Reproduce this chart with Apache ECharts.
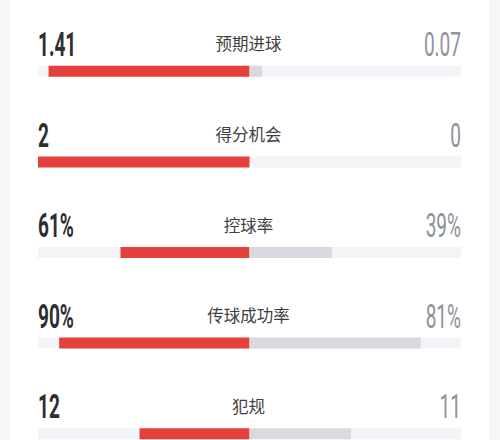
<!DOCTYPE html>
<html>
<head>
<meta charset="utf-8">
<style type="text/css">
  html, body { margin: 0; padding: 0; background: #f5f6f8; }
  #chart { width: 500px; height: 440px; }
</style>
<script type="text/javascript" src="https://cdn.jsdelivr.net/npm/echarts@6/dist/echarts.min.js"></script>
</head>
<body>
<div id="chart"></div>
<script type="text/javascript">
// stat rows, top to bottom
var statNames = ['预期进球', '得分机会', '控球率', '传球成功率', '犯规'];
var homeValues = ['1.41', '2', '61%', '90%', '12'];
var awayValues = ['0.07', '0', '39%', '81%', '11'];
// share of each half-track filled
var homeShare = [0.95, 1.0, 0.61, 0.90, 0.52];
var awayShare = [0.06, 0, 0.39, 0.81, 0.48];

var chart = echarts.init(document.getElementById('chart'), null, { renderer: 'svg' });

var numFont = 'Roboto, "Liberation Sans", sans-serif';

var option = {
    backgroundColor: '#f5f6f8',
    animation: false,
    graphic: [{
        type: 'rect',
        left: 10, top: 0, z: -10,
        shape: { width: 479, height: 440 },
        style: { fill: '#ffffff' }
    }],
    // last row runs off the bottom edge, so the grid must not be clamped
    grid: { left: 38, right: 39, top: 26, height: 453, outerBoundsMode: 'none' },
    xAxis: { type: 'value', min: -1, max: 1, show: false },
    yAxis: { type: 'category', data: statNames, inverse: true, show: false },
    series: [{
        name: 'home',
        type: 'bar',
        barWidth: 11,
        barGap: '-100%',
        showBackground: true,
        backgroundStyle: { color: '#f3f4f7' },
        itemStyle: { color: '#e5403b' },
        data: homeShare.map(function (v) { return -v; })
    }, {
        name: 'away',
        type: 'bar',
        barWidth: 11,
        barGap: '-100%',
        itemStyle: { color: '#d8dadf' },
        data: awayShare
    }, {
        name: 'labels',
        type: 'custom',
        data: statNames.map(function (n, i) { return [0, i]; }),
        renderItem: function (params, api) {
            var i = api.value(1);
            var l = api.coord([-1, i]);
            var c = api.coord([0, i]);
            var r = api.coord([1, i]);
            var ty = c[1] - 28;
            return {
                type: 'group',
                children: [{
                    type: 'text',
                    x: l[0], y: ty + 1, scaleX: 0.56,
                    style: {
                        text: homeValues[i], fontSize: 34, fontWeight: 'bold',
                        fontFamily: numFont, fill: '#2e2e30',
                        align: 'left', verticalAlign: 'middle'
                    }
                }, {
                    type: 'text',
                    x: r[0], y: ty + 1, scaleX: 0.56,
                    style: {
                        text: awayValues[i], fontSize: 34,
                        fontFamily: numFont, fill: '#8d929b',
                        align: 'right', verticalAlign: 'middle'
                    }
                }, {
                    type: 'text',
                    x: c[0] - 1, y: ty,
                    style: {
                        text: statNames[i], fontSize: 16.5,
                        fontFamily: '"Noto Sans CJK SC", sans-serif', fill: '#3f3f42',
                        align: 'center', verticalAlign: 'middle'
                    }
                }]
            };
        }
    }]
};

chart.setOption(option);
</script>
</body>
</html>
